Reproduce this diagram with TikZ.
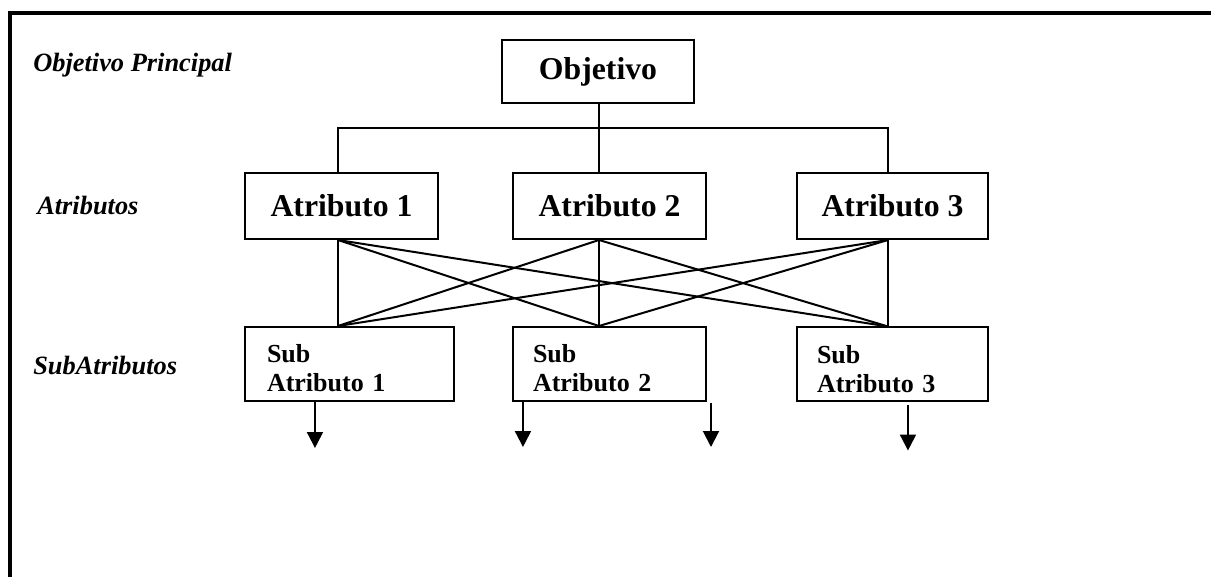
\documentclass[tikz,border=0pt]{standalone}
\usepackage{fontspec}
\setmainfont{Liberation Serif}
\usetikzlibrary{calc,arrows.meta}

\begin{document}
\begin{tikzpicture}[x=0.75pt,y=-0.75pt,
	caja/.style={draw,line width=1.5pt,inner sep=0pt,minimum height=49.5pt,font=\fontsize{23.8}{28}\selectfont\bfseries},
	subcaja/.style={draw,line width=1.5pt,inner xsep=15pt,inner ysep=0pt,minimum height=55.5pt,align=left,text height=21pt,text depth=22.5pt,font=\fontsize{19.5}{21.75}\selectfont\bfseries},
	nivel/.style={anchor=base west,inner sep=0pt,font=\fontsize{19.8}{24}\selectfont\bfseries\itshape},
	linea/.style={line width=1.5pt},
	flecha/.style={line width=1.5pt,-{Triangle[length=12pt,width=12pt]}}]
	\useasboundingbox (0,0) rectangle (1211,577);
	% marco
	\draw[line width=3pt] (10,577) -- (10,13) -- (1211,13);
	% niveles
	\node [nivel] (lobj) at (33,72) {Objetivo Principal};
	\node [nivel] (latr) at (37,215) {Atributos};
	\node [nivel] (lsub) at (33,375) {SubAtributos};
	% cajas
	\node [caja,minimum width=144pt,minimum height=47.25pt] (obj) at (598,71.5) {Objetivo};
	\node [caja,minimum width=144.75pt] (at1) at (341.5,206) {Atributo 1};
	\node [caja,minimum width=144.75pt] (at2) at (609.5,206) {Atributo 2};
	\node [caja,minimum width=143.25pt] (at3) at (892.5,206) {Atributo 3};
	\node [subcaja,inner xsep=16.5pt,text width=123.75pt] (sub1) at (349.5,364) {Sub\\Atributo 1};
	\node [subcaja,text width=114.75pt] (sub2) at (609.5,364) {Sub\\Atributo 2};
	\node [subcaja,text width=113.25pt] (sub3) at (892.5,364.5) {Sub\\Atributo 3};
	% puntos de union
	\foreach \i/\dx in {1/-2.6pt,2/-7.9pt,3/-3.4pt} {
		\coordinate (pt\i) at ([xshift=\dx]at\i.north);
		\coordinate (ps\i) at ([xshift=\dx]at\i.south);
	}
	\foreach \i/\dx in {1/-8.6pt,2/-7.9pt,3/-3.4pt}
		\coordinate (pn\i) at ([xshift=\dx]sub\i.north);
	% conexiones
	\draw[linea] (pt2 |- obj.south) -- (pt2);
	\draw[linea] (pt1) -- ++(0,-44) -| (pt3);
	\foreach \i in {1,2,3}
		\foreach \j in {1,2,3}
			\draw[linea] (ps\i) -- (pn\j);
	% flechas
	\coordinate (libre) at (711,403);
	\draw[flecha] ([xshift=-25.9pt]sub1.south) -- ++(0,46);
	\draw[flecha] ([xshift=-64.9pt]sub2.south) -- ++(0,45);
	\draw[flecha] (libre) -- ++(0,44);
	\draw[flecha] ([xshift=11.6pt,yshift=-2.25pt]sub3.south) -- ++(0,45);
\end{tikzpicture}
\end{document}
